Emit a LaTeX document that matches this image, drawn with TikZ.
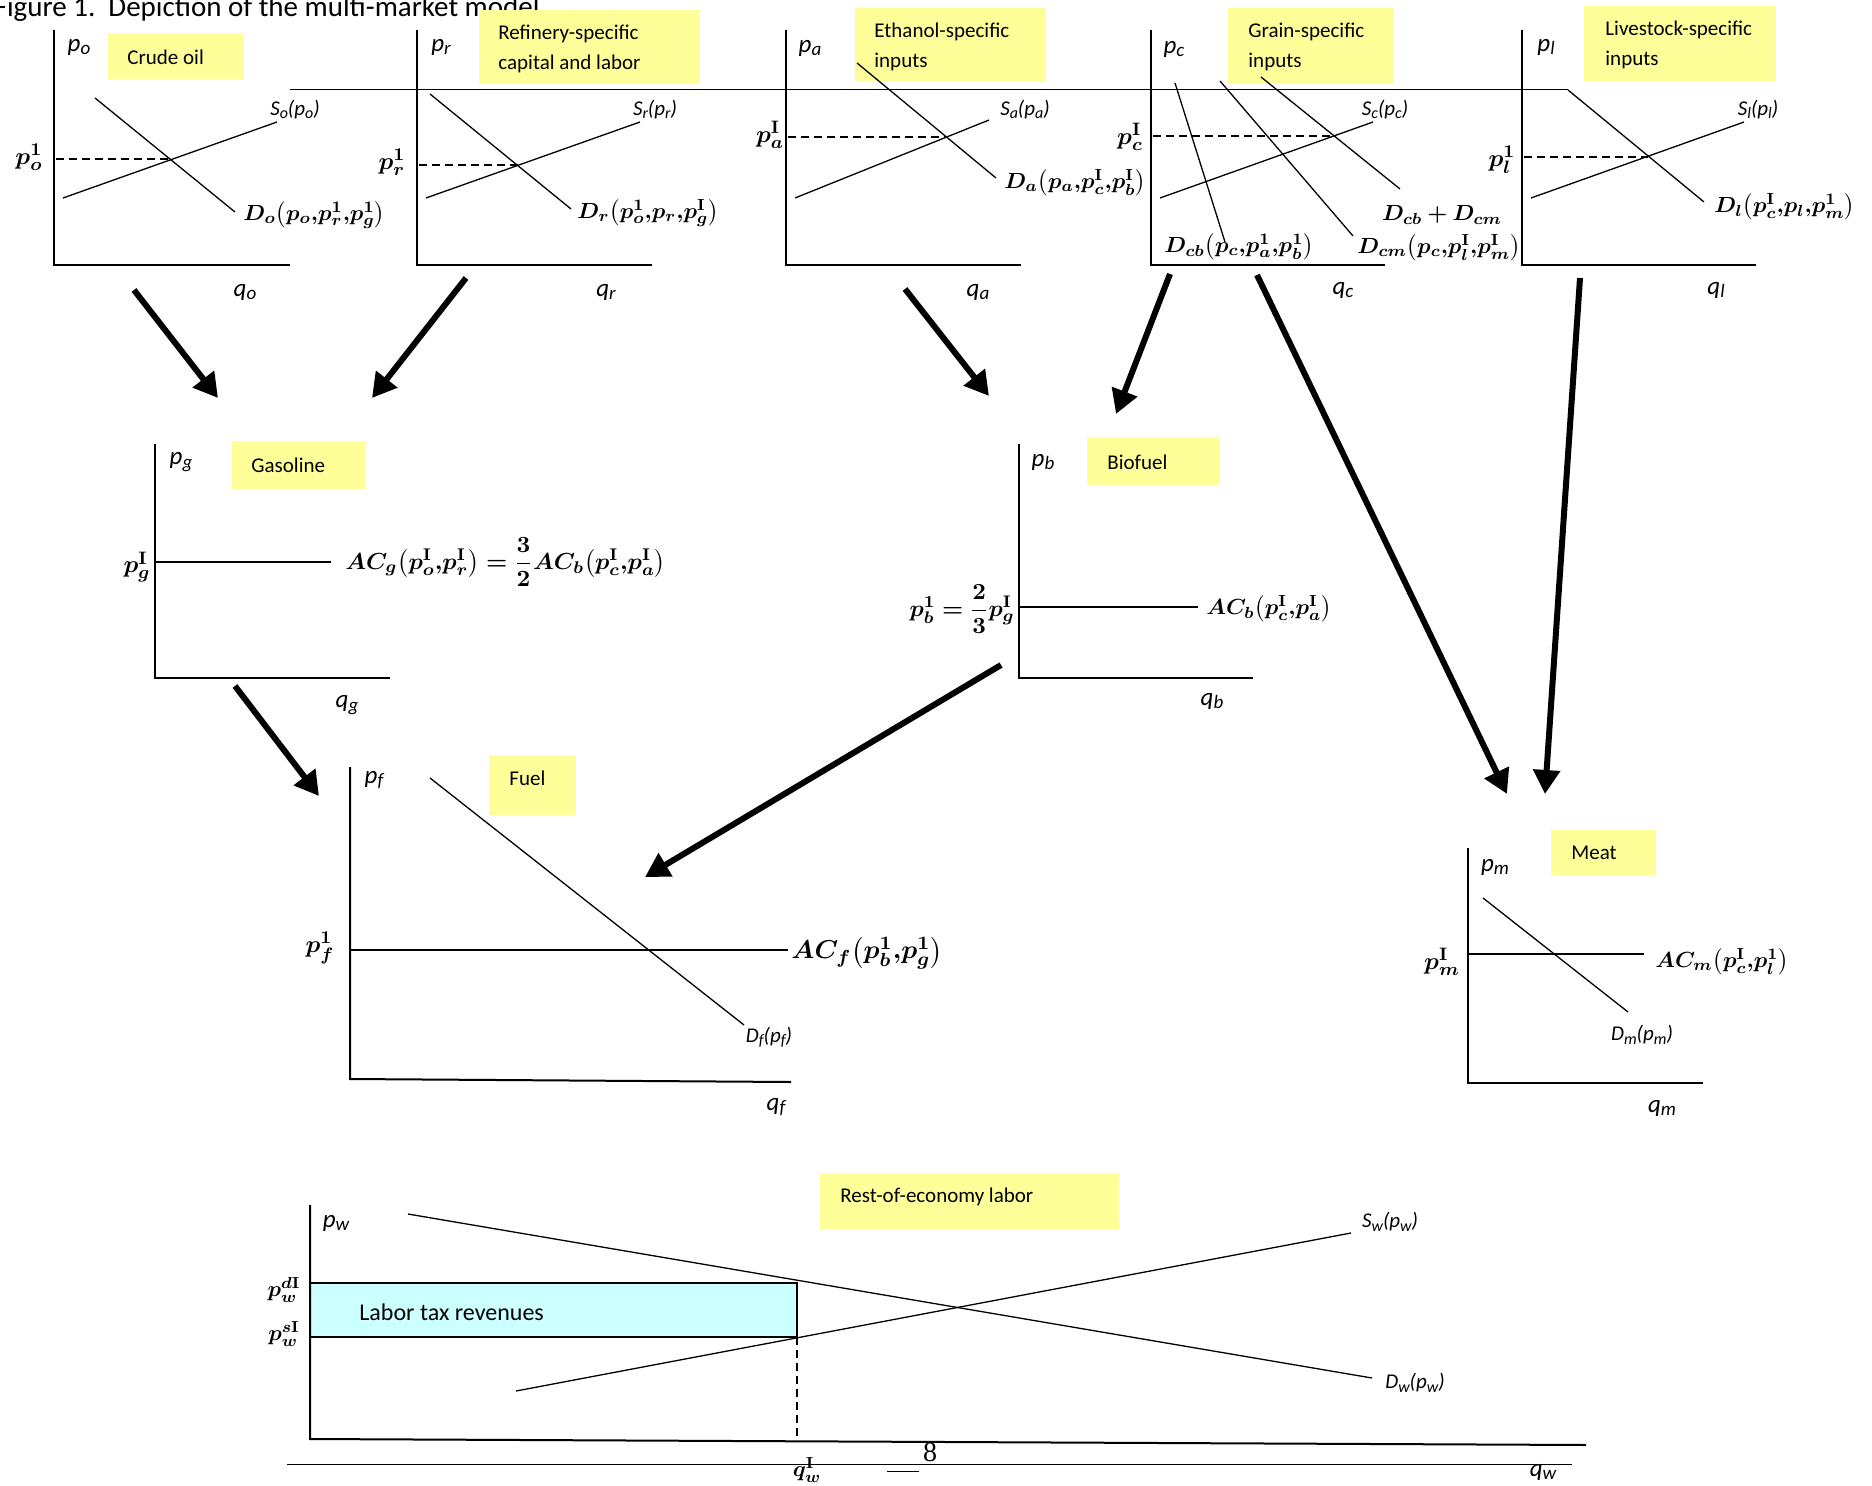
\documentclass[tikz,border=0pt]{standalone}
\usepackage{amsmath}
\usepackage{bm}
\usepackage{graphicx}
\usepackage{fontspec}
\setmainfont{Carlito}
\newfontfamily\pgserif{Liberation Serif}
\usetikzlibrary{arrows.meta}
\definecolor{boxyellow}{HTML}{FFFF99}
\definecolor{taxcyan}{HTML}{CCFFFF}
\makeatletter
\newcommand{\sbs}[1]{\raisebox{-0.3ex}{\@tempdima=\f@size pt\relax\@tempdima=0.76\@tempdima\fontsize{\strip@pt\@tempdima}{0}\selectfont #1}}
\makeatother
\newcommand{\wm}[1]{\scalebox{1.03}[1]{$\bm{#1}$}}
\newcommand{\Isup}{\mathbf{I}}
\newcommand{\cm}{\mathord{,}}
\tikzset{
  axis/.style={line width=1pt},
  curve/.style={line width=0.65pt},
  thinrule/.style={line width=0.5pt},
  dashline/.style={line width=0.65pt, dash pattern=on 4pt off 2.5pt},
  bigarrow/.style={line width=3pt, -{Triangle[length=12pt,width=13pt]}},
  axl/.style={font=\fontsize{12.5}{14}\selectfont\itshape, inner sep=0pt},
  sl/.style={font=\fontsize{10.5}{12}\selectfont\itshape, inner sep=0pt},
  bml/.style={font=\fontsize{11}{13}\selectfont, inner sep=0pt},
  pvl/.style={font=\fontsize{12.5}{14}\selectfont, inner sep=0pt},
  boxtxt/.style={font=\fontsize{10.5}{15}\selectfont, inner sep=0pt, anchor=west, align=left},
}
\begin{document}
\begin{tikzpicture}[x=0.5pt,y=-0.5pt]
\useasboundingbox (0,0) rectangle (1872,1486);

% title
\node[font=\fontsize{14.5}{16}\selectfont, inner sep=0pt, anchor=base east] (title) at (540,17) {Figure 1.\ \ Depiction of the multi-market model};
% header rule
\draw[thinrule] (290,90) -- (1568,90);

% ---------- crude oil ----------
\fill[boxyellow] (108,33) rectangle (243,79);
\node[boxtxt] (tcrude) at (127,57) {Crude oil};
\draw[axis] (54,30) -- (54,265) -- (290,265);
\draw[curve] (63,198) -- (277,122);
\draw[curve] (95,98) -- (235,212);
\draw[dashline] (56,159) -- (171,159);
\node[axl] (po) at (79,47) {p\sbs{o}};
\node[pvl] (po1) at (29,157) {\wm{p_o^1}};
\node[sl] (So) at (295,110) {S\sbs{o}(p\sbs{o})};
\node[bml, anchor=west] (Do) at (243,215) {\wm{D_o\bigl(p_o\cm p_r^1\cm p_g^1\bigr)}};
\node[axl] (qo) at (245,292) {q\sbs{o}};

% ---------- refinery ----------
\fill[boxyellow] (479,10) rectangle (699,83);
\node[boxtxt] (tref) at (498,49) {Refinery-specific\\capital and labor};
\draw[axis] (417,30) -- (417,265) -- (652,265);
\draw[curve] (426,198) -- (640,122);
\draw[curve] (430,94) -- (571,209);
\draw[dashline] (419,165) -- (518,165);
\node[axl] (pr) at (441,47) {p\sbs{r}};
\node[pvl] (pr1) at (392,162) {\wm{p_r^1}};
\node[sl] (Sr) at (655,110) {S\sbs{r}(p\sbs{r})};
\node[bml, anchor=west] (Dr) at (577,213) {\wm{D_r\bigl(p_o^1\cm p_r\cm p_g^{\Isup}\bigr)}};
\node[axl] (qr) at (606,292) {q\sbs{r}};

% ---------- ethanol ----------
\fill[boxyellow] (855,8) rectangle (1046,81);
\node[boxtxt] (teth) at (874,47) {Ethanol-specific\\inputs};
\draw[axis] (786,30) -- (786,265) -- (1021,265);
\draw[curve] (795,198) -- (989,120);
\draw[curve] (857,63) -- (996,178);
\draw[dashline] (788,137) -- (946,137);
\node[axl] (pa) at (810,48) {p\sbs{a}};
\node[pvl] (pa1) at (770,135) {\wm{p_a^{\Isup}}};
\node[sl] (Sa) at (1025,110) {S\sbs{a}(p\sbs{a})};
\node[bml, anchor=west] (Da) at (1004,183) {\wm{D_a\bigl(p_a\cm p_c^{\Isup}\cm p_b^{\Isup}\bigr)}};
\node[axl] (qa) at (978,292) {q\sbs{a}};

% ---------- grain ----------
\fill[boxyellow] (1228,8) rectangle (1394,83);
\node[boxtxt] (tgrain) at (1248,47) {Grain-specific\\inputs};
\draw[axis] (1151,30) -- (1151,265) -- (1385,265);
\draw[curve] (1160,198) -- (1373,122);
\draw[curve] (1175,83) -- (1225,242);
\draw[curve] (1220,81) -- (1353,236);
\draw[curve] (1261,77) -- (1400,189);
\draw[dashline] (1153,136) -- (1334,136);
\node[axl] (pc) at (1174,49) {p\sbs{c}};
\node[pvl] (pc1) at (1130,137) {\wm{p_c^{\Isup}}};
\node[sl] (Sc) at (1385,110) {S\sbs{c}(p\sbs{c})};
\node[bml] (Dsum) at (1442,215) {\wm{D_{cb}+D_{cm}}};
\node[bml, anchor=west] (Dcb) at (1164,247) {\wm{D_{cb}\bigl(p_c\cm p_a^1\cm p_b^1\bigr)}};
\node[bml, anchor=west] (Dcm) at (1357,248) {\wm{D_{cm}\bigl(p_c\cm p_l^{\Isup}\cm p_m^{\Isup}\bigr)}};
\node[axl] (qc) at (1343,290) {q\sbs{c}};

% ---------- livestock ----------
\fill[boxyellow] (1584,6) rectangle (1776,81);
\node[boxtxt] (tlive) at (1605,45) {Livestock-specific\\inputs};
\draw[axis] (1522,30) -- (1522,265) -- (1756,265);
\draw[curve] (1531,198) -- (1744,122);
\draw[curve] (1568,90) -- (1704,202);
\draw[dashline] (1524,157) -- (1648,157);
\node[axl] (pl) at (1546,47) {p\sbs{l}};
\node[pvl] (pl1) at (1502,160) {\wm{p_l^1}};
\node[sl] (Sl) at (1758,110) {S\sbs{l}(p\sbs{l})};
\node[bml, anchor=west] (Dl) at (1714,207) {\wm{D_l\bigl(p_c^{\Isup}\cm p_l\cm p_m^1\bigr)}};
\node[axl] (ql) at (1716,290) {q\sbs{l}};

% ---------- gasoline ----------
\fill[boxyellow] (232,441) rectangle (365,489);
\node[boxtxt] (tgas) at (251,465) {Gasoline};
\draw[axis] (155,444) -- (155,678) -- (390,678);
\draw[curve] (155,562) -- (331,562);
\node[axl] (pg) at (181,462) {p\sbs{g}};
\node[pvl] (pg1) at (137,567) {\wm{p_g^{\Isup}}};
\node[bml, anchor=west] (ACg) at (345,562) {\scalebox{1.06}{\wm{AC_g\bigl(p_o^{\Isup}\cm p_r^{\Isup}\bigr)=\dfrac{3}{2}AC_b\bigl(p_c^{\Isup}\cm p_a^{\Isup}\bigr)}}};
\node[axl] (qg) at (347,705) {q\sbs{g}};

% ---------- biofuel ----------
\fill[boxyellow] (1087,437) rectangle (1220,485);
\node[boxtxt] (tbio) at (1107,462) {Biofuel};
\draw[axis] (1019,444) -- (1019,678) -- (1253,678);
\draw[curve] (1019,607) -- (1198,607);
\node[axl] (pb) at (1043,462) {p\sbs{b}};
\node[bml, anchor=east] (pb1) at (1015,609) {\scalebox{1.05}{\wm{p_b^1=\dfrac{2}{3}p_g^{\Isup}}}};
\node[bml, anchor=west] (ACb) at (1206,609) {\wm{AC_b\bigl(p_c^{\Isup}\cm p_a^{\Isup}\bigr)}};
\node[axl] (qb) at (1212,701) {q\sbs{b}};

% ---------- fuel ----------
\fill[boxyellow] (489,755) rectangle (576,815);
\node[boxtxt] (tfuel) at (509,778) {Fuel};
\draw[axis] (350,767) -- (350,1079) -- (791,1082);
\draw[curve] (350,950) -- (788,950);
\draw[curve] (430,778) -- (744,1025);
\node[axl] (pf) at (374,780) {p\sbs{f}};
\node[pvl] (pf1) at (320,948) {\wm{p_f^1}};
\node[bml, anchor=west] (ACf) at (791,953) {\scalebox{1.18}{\wm{AC_f\bigl(p_b^1\cm p_g^1\bigr)}}};
\node[sl] (Df) at (769,1037) {D\sbs{f}(p\sbs{f})};
\node[axl] (qf) at (776,1107) {q\sbs{f}};

% ---------- meat ----------
\fill[boxyellow] (1551,830) rectangle (1656,875);
\node[boxtxt] (tmeat) at (1571,853) {Meat};
\draw[axis] (1468,848) -- (1468,1083) -- (1703,1083);
\draw[curve] (1468,954) -- (1644,954);
\draw[curve] (1483,898) -- (1628,1012);
\node[axl] (pm) at (1495,867) {p\sbs{m}};
\node[pvl] (pm1) at (1442,962) {\wm{p_m^{\Isup}}};
\node[bml, anchor=west] (ACm) at (1655,962) {\wm{AC_m\bigl(p_c^{\Isup}\cm p_l^1\bigr)}};
\node[sl] (Dm) at (1642,1035) {D\sbs{m}(p\sbs{m})};
\node[axl] (qm) at (1662,1108) {q\sbs{m}};

% ---------- labor ----------
\fill[boxyellow] (820,1173) rectangle (1119,1229);
\node[boxtxt] (tlab) at (840,1197) {Rest-of-economy labor};
\filldraw[fill=taxcyan, draw=black, line width=0.6pt] (310,1283) rectangle (797,1337);
\node[boxtxt, font=\fontsize{12}{14}\selectfont] (trev) at (359,1312) {Labor tax revenues};
\draw[axis] (310,1205) -- (310,1439) -- (1586,1445);
\draw[curve] (408,1214) -- (1372,1378);
\draw[curve] (516,1391) -- (1351,1233);
\draw[dashline] (797,1337) -- (797,1441);
\node[axl] (pw) at (336,1223) {p\sbs{w}};
\node[bml] (pwd) at (284,1290) {\wm{p_w^{d\Isup}}};
\node[bml] (pws) at (284,1334) {\wm{p_w^{s\Isup}}};
\node[sl] (Sw) at (1390,1222) {S\sbs{w}(p\sbs{w})};
\node[sl] (Dw) at (1415,1383) {D\sbs{w}(p\sbs{w})};
% footer
\draw[thinrule] (287,1464) -- (1572,1464);
\draw[thinrule] (887,1471) -- (919,1471);
\node[font=\fontsize{14}{16}\selectfont\pgserif, inner sep=0pt] (pgno) at (930,1452) {8};
\node[bml] (qw1) at (807,1470) {\wm{q_w^{\Isup}}};
\node[axl] (qw) at (1543,1472) {q\sbs{w}};

% ---------- arrows ----------
\coordinate (a1s) at (134,290); \coordinate (a1e) at (218,398);
\coordinate (a2s) at (466,278); \coordinate (a2e) at (372,398);
\coordinate (a3s) at (905,289); \coordinate (a3e) at (989,396);
\coordinate (a4s) at (1170,274); \coordinate (a4e) at (1116,414);
\coordinate (a5s) at (1257,275); \coordinate (a5e) at (1507,794);
\coordinate (a6s) at (1580,278); \coordinate (a6e) at (1545,794);
\coordinate (a7s) at (235,686); \coordinate (a7e) at (319,796);
\coordinate (a8s) at (1001,665); \coordinate (a8e) at (645,877);
\draw[bigarrow] (a1s) -- (a1e);
\draw[bigarrow] (a2s) -- (a2e);
\draw[bigarrow] (a3s) -- (a3e);
\draw[bigarrow] (a4s) -- (a4e);
\draw[bigarrow] (a5s) -- (a5e);
\draw[bigarrow] (a6s) -- (a6e);
\draw[bigarrow] (a7s) -- (a7e);
\draw[bigarrow] (a8s) -- (a8e);
\end{tikzpicture}
\end{document}
